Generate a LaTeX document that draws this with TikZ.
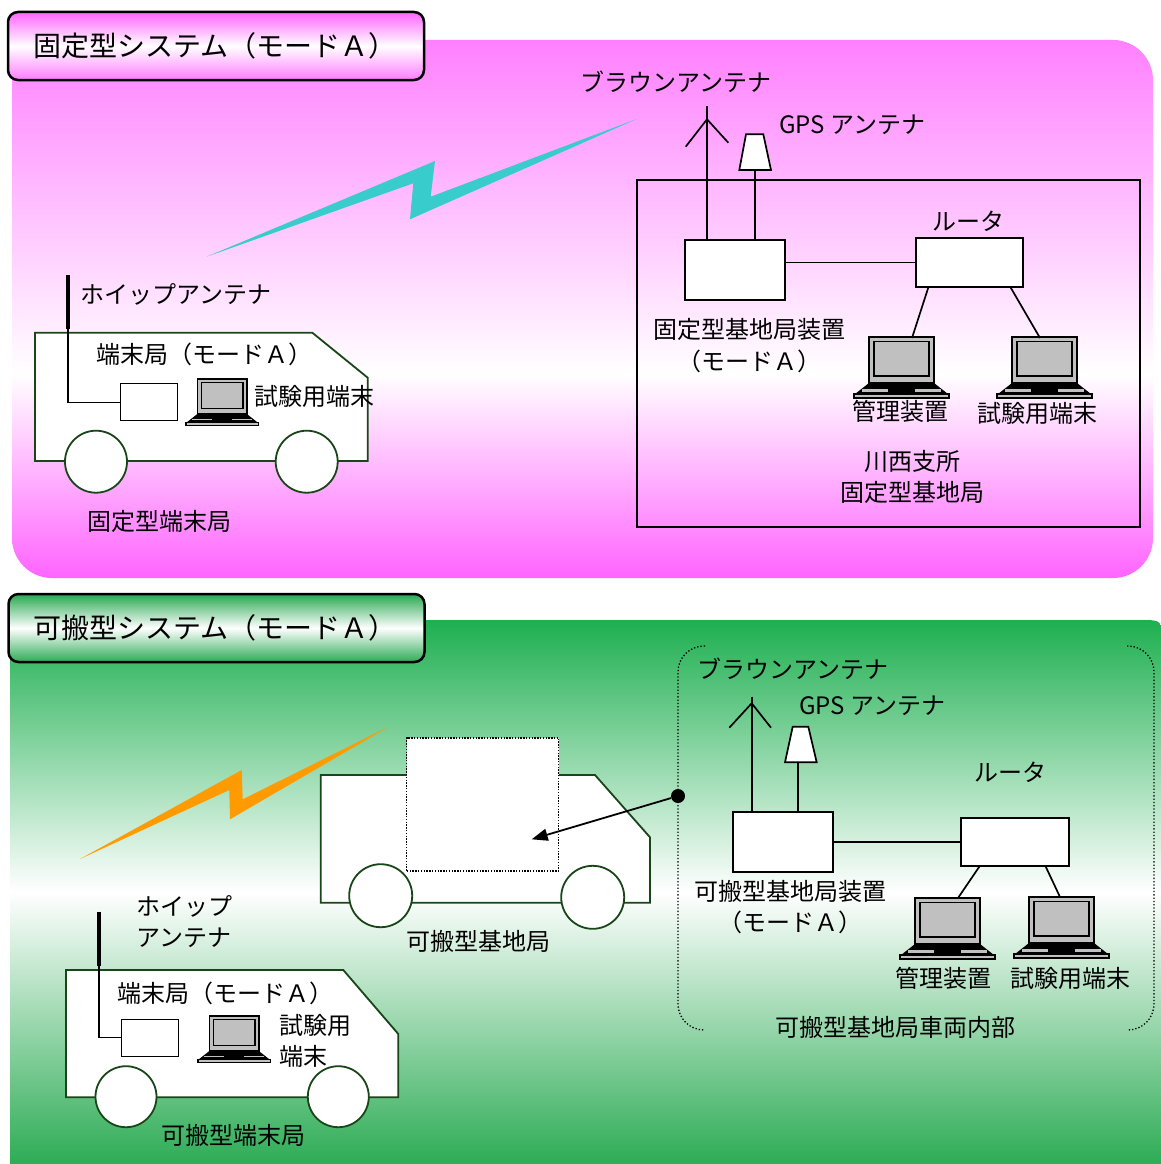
\documentclass[tikz,border=0pt]{standalone}
\usepackage{fontspec}
\newfontfamily\jp{Noto Sans CJK JP}
\usetikzlibrary{arrows.meta,calc}

\definecolor{pkT}{RGB}{255,128,255}
\definecolor{pkB}{RGB}{255,100,255}
\definecolor{gnT}{RGB}{30,175,80}
\definecolor{gnB}{RGB}{45,172,85}
\definecolor{ttlPkT}{RGB}{255,100,255}
\definecolor{ttlPkB}{RGB}{255,125,255}
\definecolor{ttlGnT}{RGB}{40,168,80}
\definecolor{ttlGnB}{RGB}{45,170,85}
\definecolor{cyanbolt}{RGB}{57,204,204}
\definecolor{orangebolt}{RGB}{255,155,0}
\definecolor{vanline}{RGB}{25,70,25}
\definecolor{scr}{RGB}{192,192,192}

\pgfdeclareverticalshading{pinkpanel}{100bp}{color(0bp)=(pkB); color(25bp)=(pkB); color(44bp)=(white); color(75bp)=(pkT); color(100bp)=(pkT)}
\pgfdeclareverticalshading{greenpanel}{100bp}{color(0bp)=(gnB); color(25bp)=(gnB); color(50bp)=(white); color(75bp)=(gnT); color(100bp)=(gnT)}

\tikzset{
  lbl/.style={font=\jp\fontsize{24}{28}\selectfont, inner sep=0pt},
  titlebox/.style={draw=black, line width=2.5pt, rounded corners=10pt,
    minimum width=416pt, minimum height=68pt, text width=366pt, inner xsep=25pt,
    align=left, font=\jp\fontsize{28}{32}\selectfont},
  ln/.style={line width=1.7pt, black},
  unit/.style={draw=black, line width=1.6pt, fill=white, inner sep=0pt},
  vanbody/.style={draw=vanline, line width=1.8pt, fill=white},
  wheel/.style={draw=vanline, line width=1.8pt, fill=white},
  whip/.style={line width=4pt, black},
  fine dots/.style={line width=1.4pt, dash pattern=on 1.4pt off 1.4pt},
  laptop/.pic={
    % lid with screen
    \draw[line width=1.5pt, fill=scr] (15,0) rectangle (80,46);
    \draw[line width=1.2pt, fill=scr] (20,4.5) rectangle (75,39);
    % keyboard base
    \fill[black] (15,46) -- (80,46) -- (94,57) -- (1,57) -- cycle;
    \fill[scr] (8,52) rectangle (34,54.5);
    \fill[scr] (61,52) rectangle (87,54.5);
    \draw[line width=1.2pt, fill=scr] (0,57) rectangle (95,61);
  }
}

\begin{document}
\begin{tikzpicture}[x=1pt,y=-1pt]
\useasboundingbox (0,0) rectangle (1161,1164);
\clip (0,0) rectangle (1161,1164);
\fill[white] (0,0) rectangle (1161,1164);

% ---------- panels ----------
\shade[shading=pinkpanel, rounded corners=40pt] (12,40) rectangle (1153,578);
\shade[shading=greenpanel] (10,1164) -- (10,620) -- (1140,620)
  .. controls (1162,620) .. (1162,642) -- (1162,1164) -- cycle;

\node[titlebox, top color=ttlPkT, bottom color=ttlPkB, middle color=white] (ttl1) at (216,46) {固定型システム（モードＡ）};
\node[titlebox, top color=ttlGnT, bottom color=ttlGnB, middle color=white] (ttl2) at (216.5,628) {可搬型システム（モードＡ）};

% ---------- radio links ----------
\fill[cyanbolt] (206.7,256.7) -- (435,161) -- (430.7,196.7) -- (636.7,119)
  -- (410,219.3) -- (413.3,183.3) -- cycle;
\fill[orangebolt] (80,859) -- (241.7,770) -- (242.7,799.3) -- (390,726)
  -- (230,819.3) -- (229.3,790) -- cycle;

% ---------- fixed system: terminal van ----------
\draw[vanbody] (35,332.7) -- (312.3,332.7) -- (367.7,377.7) -- (367.7,461) -- (35,461) -- cycle;
\draw[wheel] (96,461.7) circle[radius=31pt];
\draw[wheel] (306.7,461.7) circle[radius=31pt];
\node[unit, line width=1.3pt, minimum width=57pt, minimum height=37pt] (tb1) at (149.2,402.3) {};
\coordinate (wt1) at (68,275);
\coordinate (wb1) at (68,329);
\draw[whip] (wt1) -- (wb1);
\draw[line width=1.3pt] (wb1) |- (tb1.west);
\pic[scale=0.76] at (186,379) {laptop};
\node[lbl, anchor=west] (whip1) at (80,294) {ホイップアンテナ};
\node[lbl, anchor=west] (ts1) at (96,354) {端末局（モードＡ）};
\node[lbl, anchor=west] (pc1) at (254,396) {試験用端末};
\node[lbl] (van1) at (159,521) {固定型端末局};

% ---------- fixed system: base station ----------
\node[draw=black, line width=1.6pt, minimum width=503pt, minimum height=347pt, inner sep=0pt] (bld) at (888.5,353.5) {};
\node[unit, minimum width=100pt, minimum height=60pt] (bs1) at (735,270) {};
\node[unit, minimum width=107pt, minimum height=49pt] (rt1) at (969.5,262.5) {};
\draw[ln] (rt1.west) -- (rt1.west -| bs1.east);

\coordinate (ba1) at (707,106);
\coordinate (ba1b) at (707,119.3);
\coordinate (ba1l) at (685.7,146.7);
\coordinate (ba1r) at (728.3,142.7);
\draw[ln] (ba1) -- (ba1 |- bs1.north);
\draw[ln] (ba1l) -- (ba1b) -- (ba1r);
\coordinate (gp1) at (755,170);
\draw[ln] (gp1) -- (gp1 |- bs1.north);
\draw[ln, fill=white] (746,134.3) -- (763.3,134.3) -- (771,170) -- (739.3,170) -- cycle;

\pic at (854,337) {laptop};
\pic at (997,337) {laptop};
\coordinate (lp1a) at (912,338);
\coordinate (lp1b) at (1040,338);
\draw[ln] ($(rt1.south west)+(13,0)$) -- (lp1a);
\draw[ln] ($(rt1.south east)+(-13,0)$) -- (lp1b);

\node[lbl] (ba1t) at (676,82) {ブラウンアンテナ};
\node[lbl, anchor=west] (gp1t) at (779,125) {GPS アンテナ};
\node[lbl] (rt1t) at (968,221) {ルータ};
\node[lbl] (bs1t) at (749,329) {固定型基地局装置};
\node[lbl] (bs1m) at (749,361) {（モードＡ）};
\node[lbl] (lp1at) at (900,411) {管理装置};
\node[lbl] (lp1bt) at (1037,413) {試験用端末};
\node[lbl] (bld1) at (912,461) {川西支所};
\node[lbl] (bld2) at (912,492) {固定型基地局};

% ---------- portable system: base station truck ----------
\draw[vanbody] (320.7,775) -- (595,775) -- (650,837.3) -- (650,902.7) -- (320.7,902.7) -- cycle;
\draw[wheel] (380.7,895.7) circle[radius=31.5pt];
\draw[wheel] (592.7,897.3) circle[radius=31.5pt];
\node[draw=black, fine dots, fill=white, minimum width=152pt, minimum height=133pt, inner sep=0pt] (cab) at (482.7,804.3) {};
\node[lbl] (truck) at (478,941) {可搬型基地局};

% equipment room (bracket outline)
\draw[dotted, line width=1.3pt, rounded corners=26pt] (705,646) -- (678,646) -- (678,1030) -- (705,1030);
\draw[dotted, line width=1.3pt, rounded corners=26pt] (1127,646) -- (1154,646) -- (1154,1030) -- (1127,1030);
\node[circle, fill=black, inner sep=0pt, minimum size=14pt] (dot) at (678,796) {};
\coordinate (cabin) at (531.7,839.3);
\draw[line width=1.8pt, -{Triangle[length=16pt, width=12pt]}] (dot) -- (cabin);

\node[unit, minimum width=100pt, minimum height=60pt] (bs2) at (783,842) {};
\node[unit, minimum width=108pt, minimum height=48pt] (rt2) at (1015,842) {};
\draw[ln] (bs2.east) -- (rt2.west);

\coordinate (ba2) at (751.7,696.7);
\coordinate (ba2b) at (751.7,703.3);
\coordinate (ba2l) at (729.3,727.7);
\coordinate (ba2r) at (771,727.7);
\draw[ln] (ba2) -- (ba2 |- bs2.north);
\draw[ln] (ba2l) -- (ba2b) -- (ba2r);
\coordinate (gp2) at (798.3,762.3);
\draw[ln] (gp2) -- (gp2 |- bs2.north);
\draw[ln, fill=white] (792.7,726.7) -- (808.3,726.7) -- (816.7,762.3) -- (785,762.3) -- cycle;

\pic at (900,898) {laptop};
\pic at (1014,897) {laptop};
\coordinate (lp2a) at (958,898);
\coordinate (lp2b) at (1060,897);
\draw[ln] ($(rt2.south west)+(19,0)$) -- (lp2a);
\draw[ln] ($(rt2.south east)+(-24,0)$) -- (lp2b);

\node[lbl] (ba2t) at (793,669) {ブラウンアンテナ};
\node[lbl, anchor=west] (gp2t) at (799,706) {GPS アンテナ};
\node[lbl] (rt2t) at (1010,772) {ルータ};
\node[lbl] (bs2t) at (790,891) {可搬型基地局装置};
\node[lbl] (bs2m) at (790,922) {（モードＡ）};
\node[lbl] (lp2at) at (943,978) {管理装置};
\node[lbl] (lp2bt) at (1070,978) {試験用端末};
\node[lbl] (room) at (895,1027) {可搬型基地局車両内部};

% ---------- portable system: terminal van ----------
\draw[vanbody] (66,970) -- (343.3,970) -- (398.3,1034) -- (398.3,1097.3) -- (66,1097.3) -- cycle;
\draw[wheel] (126,1096.7) circle[radius=30.5pt];
\draw[wheel] (338.3,1096.7) circle[radius=30.5pt];
\node[unit, line width=1.3pt, minimum width=57pt, minimum height=37pt] (tb2) at (150.3,1037.7) {};
\coordinate (wt2) at (99,911.7);
\coordinate (wb2) at (99,966);
\draw[whip] (wt2) -- (wb2);
\draw[line width=1.3pt] (wb2) |- (tb2.west);
\pic[scale=0.76] at (198,1016) {laptop};
\node[lbl, anchor=west] (whip2a) at (136,906) {ホイップ};
\node[lbl, anchor=west] (whip2b) at (136,938) {アンテナ};
\node[lbl, anchor=west] (ts2) at (117,993) {端末局（モードＡ）};
\node[lbl, anchor=west] (pc2a) at (279,1025) {試験用};
\node[lbl, anchor=west] (pc2b) at (279,1056) {端末};
\node[lbl] (van2) at (233,1135) {可搬型端末局};
\end{tikzpicture}
\end{document}
